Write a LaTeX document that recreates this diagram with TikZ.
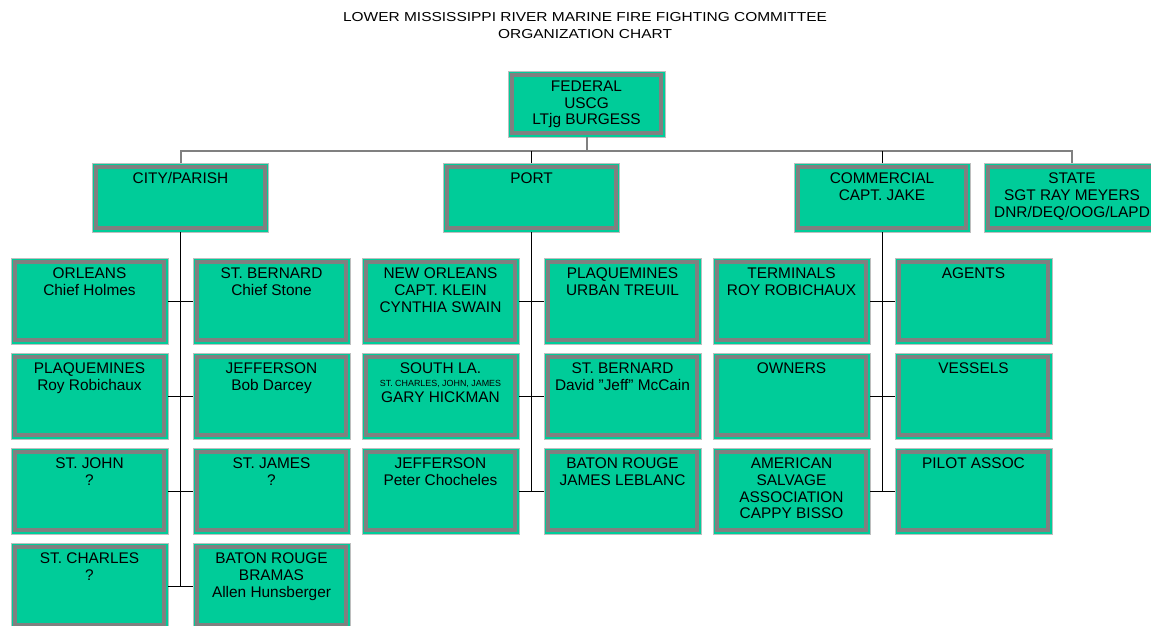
\documentclass[tikz,border=0pt]{standalone}
\usepackage{fontspec}
\setmainfont{Liberation Sans}
\newfontfamily\titlefont[FakeStretch=1.19]{Liberation Sans}
\usetikzlibrary{positioning}
\definecolor{boxgreen}{RGB}{0,204,153}
\definecolor{framegray}{RGB}{128,128,128}
\definecolor{edgegray}{RGB}{190,190,190}
\tikzset {
  % text placed at the top of a box
  boxtext/.style = {
    anchor = north,
    align = center,
    inner sep = 0,
    yshift = -9.5pt,
    font = \fontsize{15.4}{16.8}\selectfont
  },
  % green box with a grey inner frame
  unit/.style = {
    rectangle,
    fill = boxgreen,
    draw = edgegray,
    line width = 0.8pt,
    inner sep = 0,
    outer sep = 0,
    minimum width = 157pt,
    minimum height = 86pt,
    path picture = {
      \draw[framegray, line width = 4pt]
        ([shift={(3.7pt,-3.7pt)}]path picture bounding box.north west)
        rectangle
        ([shift={(-3.7pt,3.7pt)}]path picture bounding box.south east);
    },
    label = {[boxtext]north:{#1}}
  },
  % second level box
  head/.style = {
    unit = {#1},
    minimum width = 176pt,
    minimum height = 69pt
  },
  % top box
  top/.style = {
    unit = {#1},
    minimum height = 66pt
  },
  % grey upper connectors
  bus/.style = {
    draw = framegray,
    line width = 2pt
  },
  % black lower connectors
  link/.style = {
    draw = black,
    line width = 1pt
  },
  node distance = 9pt and 25pt
}

\begin{document}
\begin{tikzpicture}[x=1pt, y=-1pt]
    \useasboundingbox (0,0) rectangle (1151,625);
    \clip (0,0) rectangle (1151,625);

    \node[font=\titlefont\fontsize{13}{16.5}\selectfont, align=center, anchor=north, inner sep=0] (title) at (585,12.7)
      {LOWER MISSISSIPPI RIVER MARINE FIRE FIGHTING COMMITTEE\\ORGANIZATION CHART};

    \node[top={FEDERAL\\USCG\\LTjg BURGESS}, anchor=north] (federal) at (586.5,71) {};
    \coordinate (split) at (586.5,151);

    \node[head={CITY/PARISH}, anchor=north] (city) at (180.5,163) {};
    \node[head={PORT}, anchor=north] (port) at (531.5,163) {};
    \node[head={COMMERCIAL\\CAPT. JAKE}, anchor=north] (commercial) at (882,163) {};
    \node[head={STATE\\SGT RAY MEYERS\\DNR/DEQ/OOG/LAPD}, anchor=north] (state) at (1072,163) {};

    % city / parish
    \node[unit={ORLEANS\\Chief Holmes}, anchor=north west] (orleans) at (11,258) {};
    \node[unit={ST. BERNARD\\Chief Stone}] (cbernard) [right=of orleans] {};
    \node[unit={PLAQUEMINES\\Roy Robichaux}] (cplaquemines) [below=of orleans] {};
    \node[unit={JEFFERSON\\Bob Darcey}] (cjefferson) [right=of cplaquemines] {};
    \node[unit={ST. JOHN\\?}] (stjohn) [below=of cplaquemines] {};
    \node[unit={ST. JAMES\\?}] (stjames) [right=of stjohn] {};
    \node[unit={ST. CHARLES\\?}] (stcharles) [below=of stjohn] {};
    \node[unit={BATON ROUGE\\BRAMAS\\Allen Hunsberger}] (cbatonrouge) [right=of stcharles] {};

    % port
    \node[unit={NEW ORLEANS\\CAPT. KLEIN\\CYNTHIA SWAIN}, anchor=north west] (neworleans) at (362,258) {};
    \node[unit={PLAQUEMINES\\URBAN TREUIL}] (pplaquemines) [right=of neworleans] {};
    \node[unit={SOUTH LA.\\[-4pt]{\fontsize{8.9}{10}\selectfont ST. CHARLES, JOHN, JAMES}\\[-1pt]GARY HICKMAN}] (southla) [below=of neworleans] {};
    \node[unit={ST. BERNARD\\David "Jeff" McCain}] (pbernard) [right=of southla] {};
    \node[unit={JEFFERSON\\Peter Chocheles}] (pjefferson) [below=of southla] {};
    \node[unit={BATON ROUGE\\JAMES LEBLANC}] (pbatonrouge) [right=of pjefferson] {};

    % commercial
    \node[unit={TERMINALS\\ROY ROBICHAUX}, anchor=north west] (terminals) at (713,258) {};
    \node[unit={AGENTS}] (agents) [right=of terminals] {};
    \node[unit={OWNERS}] (owners) [below=of terminals] {};
    \node[unit={VESSELS}] (vessels) [right=of owners] {};
    \node[unit={AMERICAN\\SALVAGE\\ASSOCIATION\\CAPPY BISSO}] (salvage) [below=of owners] {};
    \node[unit={PILOT ASSOC}] (pilot) [right=of salvage] {};

    % upper level
    \draw[bus] (federal.south) -- (split);
    \draw[bus] (city.north) |- (state.north |- split) -- (state.north);
    \draw[link] (port.north) -- (port.north |- split);
    \draw[link] (commercial.north) -- (commercial.north |- split);

    % lower level
    \draw[link] (city.south) -- (city.south |- stcharles.east);
    \draw[link] (orleans.east) -- (cbernard.west);
    \draw[link] (cplaquemines.east) -- (cjefferson.west);
    \draw[link] (stjohn.east) -- (stjames.west);
    \draw[link] (stcharles.east) -- (cbatonrouge.west);

    \draw[link] (port.south) -- (port.south |- pjefferson.east);
    \draw[link] (neworleans.east) -- (pplaquemines.west);
    \draw[link] (southla.east) -- (pbernard.west);
    \draw[link] (pjefferson.east) -- (pbatonrouge.west);

    \draw[link] (commercial.south) -- (commercial.south |- salvage.east);
    \draw[link] (terminals.east) -- (agents.west);
    \draw[link] (owners.east) -- (vessels.west);
    \draw[link] (salvage.east) -- (pilot.west);
  \end{tikzpicture}
\end{document}
